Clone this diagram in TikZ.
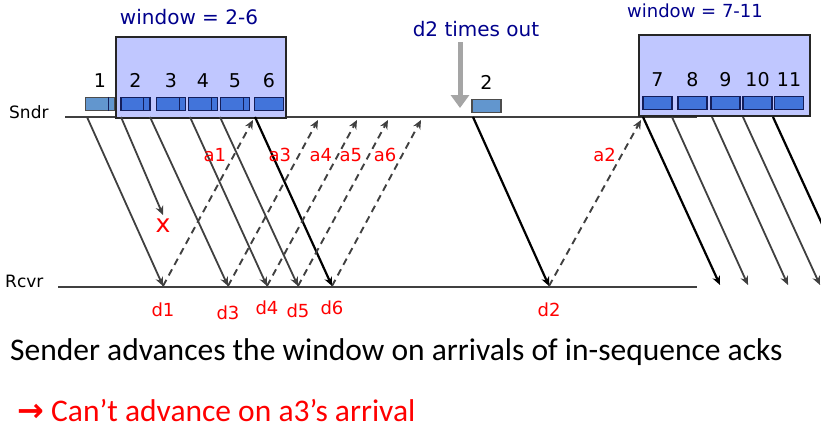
\documentclass[tikz,border=0pt]{standalone}
\usepackage{fontspec}
\setmainfont{DejaVu Sans}
\newfontfamily\bodyfont{Carlito}
\newfontfamily\arrowfont{DejaVu Sans Bold}
\usetikzlibrary{arrows.meta, positioning}
\definecolor{winblue}{RGB}{192, 199, 255}
\definecolor{pktblue}{RGB}{66, 116, 218}
\definecolor{oldblue}{RGB}{98, 150, 206}
\definecolor{pktedge}{RGB}{20, 30, 90}
\definecolor{navytext}{RGB}{0, 0, 140}
\definecolor{linegray}{RGB}{64, 64, 64}
\definecolor{timeoutgray}{RGB}{165, 165, 165}
\definecolor{tagred}{RGB}{255, 0, 0}

\begin{document}
\begin{tikzpicture}[
    x=1pt, y=-1pt,
    window/.style={rectangle, draw=black!85, fill=winblue, line width=1.5pt, inner sep=0pt, anchor=north west},
    pkt/.style={rectangle, draw=pktedge, fill=pktblue, line width=1.2pt, minimum width=29pt, minimum height=13pt, inner sep=0pt},
    oldpkt/.style={pkt, draw=black!70, fill=oldblue},
    num/.style={font=\fontsize{19}{19}\selectfont, inner sep=0pt},
    wintext/.style={text=navytext, inner sep=0pt},
    host/.style={font=\fontsize{17}{17}\selectfont, anchor=west, inner sep=0pt},
    timeline/.style={draw=linegray, line width=1.6pt},
    data/.style={-{Stealth[length=9pt, width=8pt]}, draw=linegray, line width=1.8pt},
    resend/.style={data, draw=black, line width=2.2pt},
    ack/.style={-{Stealth[length=9pt, width=8pt]}, draw=linegray, line width=1.9pt, dash pattern=on 7pt off 5pt},
    tag/.style={font=\fontsize{18}{18}\selectfont, text=tagred, inner sep=0pt},
    note/.style={font=\bodyfont\fontsize{31.5}{31.5}\selectfont, anchor=west, inner sep=0pt}
]
    \clip (0,0) rectangle (821,432);

    % Time lines
    \node[host] (sndr) at (9,112) {Sndr};
    \node[host] (rcvr) at (5,281) {Rcvr};
    \coordinate (sl) at (65,117);
    \coordinate (sr) at (697,117);
    \coordinate (rl) at (58,287);
    \coordinate (rr) at (697,287);
    \draw[timeline] (sl) -- (sr);
    \draw[timeline] (rl) -- (rr);

    % Windows
    \node[window, minimum width=170pt, minimum height=81pt] (win1) at (115,36) {};
    \node[window, minimum width=171pt, minimum height=81pt] (win2) at (638,34) {};
    \node[wintext, font=\fontsize{20}{20}\selectfont] (win1text) at (189,17) {window = 2-6};
    \node[wintext, font=\fontsize{18}{18}\selectfont] (win2text) at (695,11) {window = 7-11};

    % Packets
    \node[oldpkt] (p1) at (100,104) {};
    \node[pkt] (p2) at (135.5,104) {};
    \node[pkt] (p3) at (171,104) {};
    \node[pkt] (p4) at (203,104) {};
    \node[pkt] (p5) at (235,104) {};
    \node[pkt] (p6) at (269,104) {};
    \foreach \p in {p1,p2,p3,p4,p5}
        \draw[pktedge, line width=1.2pt] ([xshift=-7pt]\p.north east) -- ([xshift=-7pt]\p.south east);
    \node[pkt] (p7) at (657.5,103) {};
    \node[pkt] (p8) at (692.5,103) {};
    \node[pkt] (p9) at (725.5,103) {};
    \node[pkt] (p10) at (757.5,103) {};
    \node[pkt] (p11) at (789,103) {};
    \node[oldpkt] (p2again) at (486.5,106) {};
    \foreach \p/\n in {p1/1, p2/2, p3/3, p4/4, p5/5, p6/6, p7/7, p8/8, p9/9, p10/10, p11/11, p2again/2}
        \node[num, above=9pt of \p] {\n};

    % Time out
    \node[wintext, font=\fontsize{20}{20}\selectfont] (tout) at (476,29) {d2 times out};
    \coordinate (toutfrom) at (460,42);
    \coordinate (toutto) at (460,108);
    \draw[-{Triangle[length=13pt, width=18pt]}, draw=timeoutgray, line width=5pt] (toutfrom) -- (toutto);

    % Send and receive points
    \coordinate (s1) at (87,117);   \coordinate (r1) at (163,286);
    \coordinate (s2) at (121,117);  \coordinate (lost) at (163,215);
    \coordinate (s3) at (150,117);  \coordinate (r3) at (228,286);
    \coordinate (s4) at (190,117);  \coordinate (r4) at (267,286);
    \coordinate (s5) at (220,117);  \coordinate (r5) at (298,286);
    \coordinate (s6) at (255,117);  \coordinate (r6) at (332,286);
    \coordinate (s2b) at (473,117); \coordinate (r2) at (549,286);

    % Data
    \draw[data] (s1) -- (r1);
    \draw[data] (s2) -- (lost);
    \draw[data] (s3) -- (r3);
    \draw[data] (s4) -- (r4);
    \draw[data] (s5) -- (r5);
    \draw[resend] (s6) -- (r6);
    \draw[resend] (s2b) -- (r2);
    \node[tag, font=\fontsize{25}{25}\selectfont, below=4pt of lost] (lossmark) {x};

    % Acks
    \coordinate (t1) at (253,120);
    \coordinate (t3) at (318,120);
    \coordinate (t4) at (357,120);
    \coordinate (t5) at (388,120);
    \coordinate (t6) at (421,120);
    \coordinate (t2) at (641,120);
    \draw[ack] (r1) -- node[tag, pos=0.79, left=7pt] {a1} (t1);
    \draw[ack] (r3) -- node[tag, pos=0.79, left=7pt] {a3} (t3);
    \draw[ack] (r4) -- node[tag, pos=0.79, left=5pt] {a4} (t4);
    \draw[ack] (r5) -- node[tag, pos=0.79, left=6pt] {a5} (t5);
    \draw[ack] (r6) -- node[tag, pos=0.79, left=5pt] {a6} (t6);
    \draw[ack] (r2) -- node[tag, pos=0.79, left=5pt] {a2} (t2);
    \foreach \r/\n/\d in {r1/d1/17pt, r3/d3/20pt, r4/d4/15pt, r5/d5/18pt, r6/d6/15pt, r2/d2/17pt}
        \node[tag, below=\d of \r] {\n};

    % Next window
    \foreach \s/\x in {s7/643, s8/672, s9/712, s10/743, s11/773}
        \coordinate (\s) at (\x,117);
    \foreach \s/\x in {e7/720, e8/748, e9/788, e10/820, e11/850}
        \coordinate (\s) at (\x,285);
    \draw[resend] (s7) -- (e7);
    \draw[data] (s8) -- (e8);
    \draw[data] (s9) -- (e9);
    \draw[data] (s10) -- (e10);
    \draw[resend] (s11) -- (e11);

    % Notes
    \node[note] (rule) at (10,352) {Sender advances the window on arrivals of in-sequence acks};
    \node[note, text=tagred] (result) at (17,410) {{\arrowfont\fontsize{32}{32}\selectfont →} Can’t advance on a3’s arrival};
\end{tikzpicture}
\end{document}
